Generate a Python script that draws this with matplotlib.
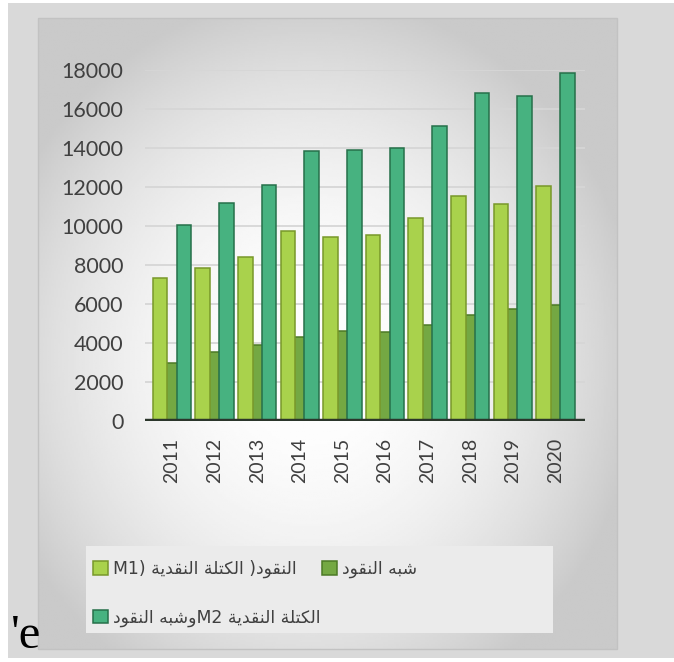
import numpy as np
import matplotlib
matplotlib.use('Agg')
import matplotlib.pyplot as plt
from matplotlib.patches import Rectangle

# ---------------- data ----------------
years = ['2011', '2012', '2013', '2014', '2015', '2016', '2017', '2018', '2019', '2020']
m1 = [7330, 7830, 8400, 9740, 9420, 9540, 10430, 11550, 11130, 12050]
quasi = [2990, 3520, 3900, 4290, 4630, 4580, 4920, 5440, 5730, 5950]
m2 = [10070, 11160, 12100, 13860, 13900, 13990, 15130, 16800, 16680, 17830]
yticks = [0, 2000, 4000, 6000, 8000, 10000, 12000, 14000, 16000, 18000]
label_m1 = "النقود( الكتلة النقدية (M1"
label_quasi = "شبه النقود"
label_m2 = "الكتلة النقدية M2وشبه النقود"

# ---------------- minimal Arabic shaping + RTL ordering ----------------
FORMS = {
    '\u0627': ('\uFE8D', '\uFE8E'),
    '\u062F': ('\uFEA9', '\uFEAA'),
    '\u0648': ('\uFEED', '\uFEEE'),
    '\u0629': ('\uFE93', '\uFE94'),
    '\u0644': ('\uFEDD', '\uFEDE', '\uFEDF', '\uFEE0'),
    '\u0646': ('\uFEE5', '\uFEE6', '\uFEE7', '\uFEE8'),
    '\u0642': ('\uFED5', '\uFED6', '\uFED7', '\uFED8'),
    '\u0643': ('\uFED9', '\uFEDA', '\uFEDB', '\uFEDC'),
    '\u062A': ('\uFE95', '\uFE96', '\uFE97', '\uFE98'),
    '\u064A': ('\uFEF1', '\uFEF2', '\uFEF3', '\uFEF4'),
    '\u0634': ('\uFEB5', '\uFEB6', '\uFEB7', '\uFEB8'),
    '\u0628': ('\uFE8F', '\uFE90', '\uFE91', '\uFE92'),
    '\u0647': ('\uFEE9', '\uFEEA', '\uFEEB', '\uFEEC'),
}


def shape(s):
    out = []
    for i, c in enumerate(s):
        if c not in FORMS:
            out.append(c)
            continue
        f = FORMS[c]
        prev = s[i - 1] if i > 0 else ''
        nxt = s[i + 1] if i + 1 < len(s) else ''
        jp = prev in FORMS and len(FORMS[prev]) == 4
        jn = len(f) == 4 and nxt in FORMS
        if jp and jn:
            out.append(f[3])
        elif jp:
            out.append(f[1])
        elif jn:
            out.append(f[2])
        else:
            out.append(f[0])
    return ''.join(out)


MIRROR = {'(': ')', ')': '('}


def rtl(s):
    s = shape(s)
    runs = []
    cur = ''
    curl = None
    for c in s:
        l = c.isascii() and c.isalnum()
        if curl is None or l == curl:
            cur += c
        else:
            runs.append((curl, cur))
            cur = c
        curl = l
    runs.append((curl, cur))
    out = []
    for l, r in reversed(runs):
        out.append(r if l else ''.join(MIRROR.get(c, c) for c in reversed(r)))
    return ''.join(out)


# ---------------- figure ----------------
W, H = 674, 662
fig = plt.figure(figsize=(W / 100, H / 100), dpi=100)
fig.patch.set_facecolor('white')

bg = fig.add_axes([0, 0, 1, 1])
bg.set_xlim(0, W)
bg.set_ylim(H, 0)
bg.axis('off')
bg.add_patch(Rectangle((8, 3), W - 8, 655, facecolor='#d9d9d9', edgecolor='none'))

# panel with radial gradient
px0, px1, py0, py1 = 38, 617, 18, 649
gx = np.linspace(px0, px1, 300)
gy = np.linspace(py0, py1, 300)
GX, GY = np.meshgrid(gx, gy)
r = np.sqrt(((GX - 310) / 300) ** 2 + ((GY - 360) / 330) ** 2)
v = np.clip(1.0 - 0.17 * r ** 2, 0.79, 0.99)
bg.imshow(v, cmap='gray', vmin=0, vmax=1, extent=(px0, px1, py1, py0), aspect='auto', zorder=1)
bg.add_patch(Rectangle((px0, py0), px1 - px0, py1 - py0, facecolor='none', edgecolor='#c2c2c2', lw=1, zorder=2))

# legend background box
bg.add_patch(Rectangle((86, 546), 467, 87, facecolor='#ebebeb', edgecolor='none', zorder=3))

# stray text at bottom-left
bg.text(11, 648, "'e", family='Liberation Serif', fontsize=35, color='black', va='baseline', ha='left', zorder=5)

# ---------------- plot axes ----------------
ax = fig.add_axes([145 / W, (H - 421) / H, 440 / W, 351 / H])
ax.patch.set_alpha(0)
x = np.arange(len(years))
bw = 0.34
off = 0.28
bq = ax.bar(x, quasi, bw, color='#74a843', edgecolor='#4c7a26', lw=1.1, zorder=2)
b1 = ax.bar(x - off, m1, bw, color='#a9d24c', edgecolor='#78982a', lw=1.1, zorder=3)
b2 = ax.bar(x + off, m2, bw, color='#47b280', edgecolor='#26704a', lw=1.1, zorder=3)

ax.set_xlim(-0.634, 9.695)
ax.set_ylim(0, 18000)
ax.set_yticks(yticks)
ax.set_yticklabels([str(t) for t in yticks])
ax.set_xticks(x)
ax.set_xticklabels(years, rotation=90)
ax.tick_params(axis='y', length=0, pad=15.5, labelsize=15.5, labelcolor='#404040')
ax.tick_params(axis='x', length=0, pad=12, labelsize=14, labelcolor='#404040')
for lab in ax.get_xticklabels() + ax.get_yticklabels():
    lab.set_family('Lato')
ax.grid(axis='y', color='#d6d6d6', lw=1.3)
ax.set_axisbelow(True)
ax.axhline(0, color='#2b362b', lw=3.2, zorder=4)
for s in ax.spines.values():
    s.set_visible(False)

leg = ax.legend([b1, b2, bq], [rtl(label_m1), rtl(label_m2), rtl(label_quasi)],
                ncol=2, loc='upper left', bbox_to_anchor=(93 / W, 1 - 560 / H),
                bbox_transform=fig.transFigure, frameon=False,
                prop={'family': 'DejaVu Sans', 'size': 12.4},
                handlelength=0.85, handleheight=0.85, handletextpad=0.3,
                columnspacing=0.12, labelspacing=1.75, borderpad=0, borderaxespad=0)
for t in leg.get_texts():
    t.set_color('#404040')

fig.savefig('out.png', dpi=100, facecolor=fig.get_facecolor())
